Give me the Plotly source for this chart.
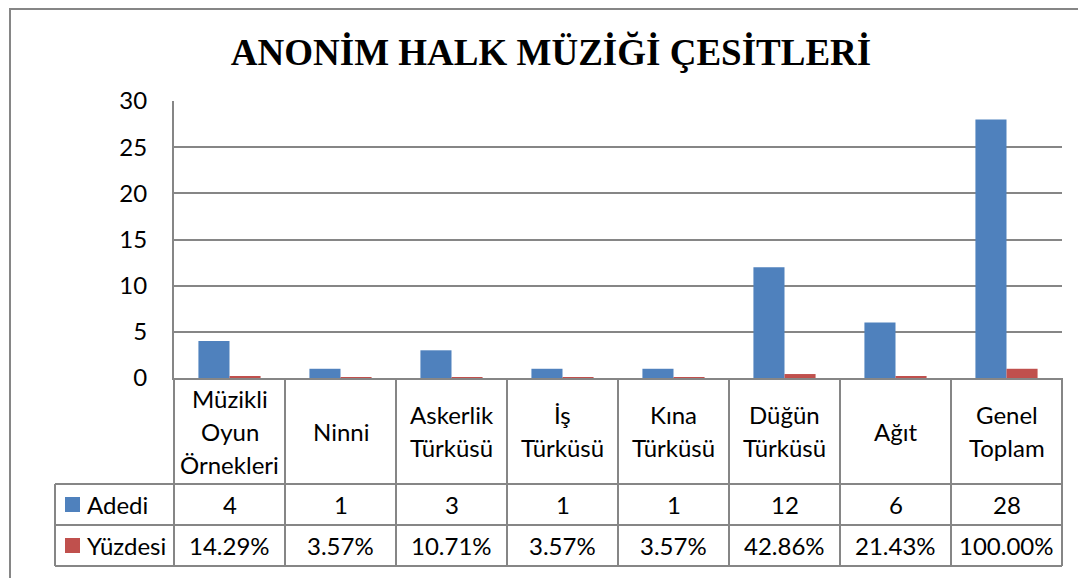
import plotly.graph_objects as go

# chart data
categories = ["Müzikli<br>Oyun<br>Örnekleri", "Ninni", "Askerlik<br>Türküsü", "İş<br>Türküsü",
              "Kına<br>Türküsü", "Düğün<br>Türküsü", "Ağıt", "Genel<br>Toplam"]
series_names = ["Adedi", "Yüzdesi"]
adedi = [4, 1, 3, 1, 1, 12, 6, 28]
yuzdesi = [0.1429, 0.0357, 0.1071, 0.0357, 0.0357, 0.4286, 0.2143, 1.0]
title_text = "ANONİM HALK MÜZİĞİ ÇESİTLERİ"

colors = ["#4F81BD", "#C0504D"]
grid = "#868686"
body_font = "Lato"

# page has an 8px body margin, so the figure itself starts at (8, 8)
OFF = 8
FW, FH = 1086 - OFF, 578 - OFF

# plot area in page pixels
L, R, T, B = 174, 1062, 101, 378
W, H = R - L, B - T


def px(xp):
    return (xp - L) / W


def py(yp):
    return (B - yp) / H


fig = go.Figure()
fig.add_trace(go.Bar(x=categories, y=adedi, name=series_names[0],
                     marker=dict(color=colors[0], line=dict(width=0)), hoverinfo="skip"))
fig.add_trace(go.Bar(x=categories, y=yuzdesi, name=series_names[1],
                     marker=dict(color=colors[1], line=dict(width=0)), hoverinfo="skip"))

# table rows (page pixel bounds)
row_top, row_head, row_a, row_b = B, 484, 525, 566
left_col = 55

shapes = []
line = dict(color=grid, width=2)
for yy in (row_head, row_a, row_b):
    shapes.append(dict(type="line", xref="paper", yref="paper", x0=px(left_col), x1=1,
                       y0=py(yy), y1=py(yy), line=line))
shapes.append(dict(type="line", xref="paper", yref="paper", x0=px(left_col), x1=px(left_col),
                   y0=py(row_head), y1=py(row_b), line=line))
for xx in (0, 1):
    shapes.append(dict(type="line", xref="paper", yref="paper", x0=xx, x1=xx,
                       y0=py(row_top), y1=py(row_b), line=line))
for i in range(1, len(categories)):
    shapes.append(dict(type="line", xref="x", yref="paper", x0=i - 0.5, x1=i - 0.5,
                       y0=py(row_top), y1=py(row_b), line=line))

# outer chart border
shapes.append(dict(type="rect", xref="paper", yref="paper", x0=px(10), x1=px(1100),
                   y0=py(600), y1=py(9), line=dict(color=grid, width=2), layer="below"))

annotations = []
txt = dict(family=body_font, size=24, color="black")
head_mid = (row_top + row_head) / 2
for c in categories:
    parts = c.split("<br>")
    n = len(parts)
    for k, p in enumerate(parts):
        yy = head_mid + (k - (n - 1) / 2) * 33
        annotations.append(dict(x=c, y=py(yy), xref="x", yref="paper", text=p,
                                showarrow=False, font=txt, xanchor="center", yanchor="middle"))

rows = [(adedi, lambda v: f"{v}"), (yuzdesi, lambda v: f"{v * 100:.2f}%")]
row_mids = [(row_head + row_a) / 2, (row_a + row_b) / 2]
for (vals, fmt), mid, name, col in zip(rows, row_mids, series_names, colors):
    for c, v in zip(categories, vals):
        annotations.append(dict(x=c, y=py(mid), xref="x", yref="paper", text=fmt(v),
                                showarrow=False, font=txt, xanchor="center", yanchor="middle"))
    shapes.append(dict(type="rect", xref="paper", yref="paper", x0=px(65), x1=px(80),
                       y0=py(mid + 7.5), y1=py(mid - 7.5), fillcolor=col, line=dict(width=0)))
    annotations.append(dict(x=px(85), y=py(mid), xref="paper", yref="paper", text=name,
                            showarrow=False, font=txt, xanchor="left", yanchor="middle"))

fig.update_layout(
    width=FW, height=FH,
    margin=dict(l=L - OFF, r=1086 - R, t=T - OFF, b=578 - B),
    paper_bgcolor="white", plot_bgcolor="white",
    showlegend=False,
    barmode="group", bargap=0.44, bargroupgap=0,
    title=dict(text=f"<b>{title_text}</b>", x=(551 - OFF) / FW, xanchor="center",
               y=1 - (52 - OFF) / FH, yanchor="middle", xref="container", yref="container",
               font=dict(family="Liberation Serif", size=37, color="black")),
    shapes=shapes,
    annotations=annotations,
)
fig.update_xaxes(range=[-0.5, len(categories) - 0.5], showticklabels=False, showgrid=False,
                 showline=True, linecolor=grid, linewidth=2, ticks="", zeroline=False)
fig.update_yaxes(range=[0, 30], dtick=5, showgrid=True, gridcolor=grid, gridwidth=1.5,
                 showline=True, linecolor=grid, linewidth=2, zeroline=False,
                 ticks="", ticklabelstandoff=20,
                 tickfont=dict(family=body_font, size=24, color="black"))

fig.write_html("out.html")
